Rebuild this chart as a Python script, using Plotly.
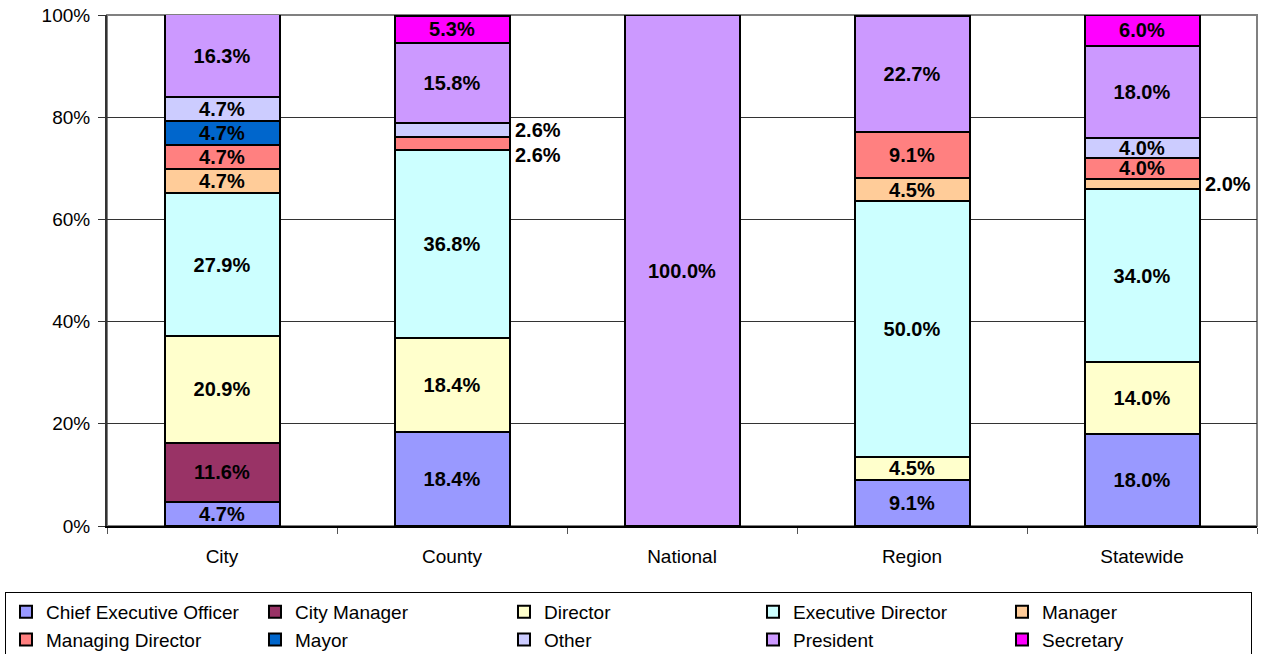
import plotly.graph_objects as go

categories = ["City", "County", "National", "Region", "Statewide"]
series_names = ["Chief Executive Officer", "City Manager", "Director", "Executive Director",
                "Manager", "Managing Director", "Mayor", "Other", "President", "Secretary"]
ceo = [4.7, 18.4, 0, 9.1, 18.0]
city_manager = [11.6, 0, 0, 0, 0]
director = [20.9, 18.4, 0, 4.5, 14.0]
executive_director = [27.9, 36.8, 0, 50.0, 34.0]
manager = [4.7, 0, 0, 4.5, 2.0]
managing_director = [4.7, 2.6, 0, 9.1, 4.0]
mayor = [4.7, 0, 0, 0, 0]
other = [4.7, 2.6, 0, 0, 4.0]
president = [16.3, 15.8, 100.0, 22.7, 18.0]
secretary = [0, 5.3, 0, 0, 6.0]
series_values = [ceo, city_manager, director, executive_director, manager,
                 managing_director, mayor, other, president, secretary]
colors = ["#9999FF", "#993366", "#FFFFCC", "#CCFFFF", "#FFCC99",
          "#FF8080", "#0066CC", "#CCCCFF", "#CC99FF", "#FF00FF"]
y_ticks = [0, 20, 40, 60, 80, 100]
y_ticklabels = ["0%", "20%", "40%", "60%", "80%", "100%"]

FONT = "Liberation Sans, Arial, sans-serif"
OUTSIDE_MIN = 3.0

fig = go.Figure()
for name, vals, col in zip(series_names, series_values, colors):
    texts = [f"{v:.1f}%" if v >= OUTSIDE_MIN else "" for v in vals]
    fig.add_trace(go.Bar(
        x=categories, y=vals, name=name,
        marker=dict(color=col, line=dict(color="black", width=2)),
        text=texts, textposition="inside", insidetextanchor="middle",
        textangle=0, constraintext="none",
        textfont=dict(family=FONT, size=20, color="black", weight="bold"),
        hoverinfo="skip", width=0.5,
    ))

# outside labels for small segments
PLOT_H = 511
for ci, cat in enumerate(categories):
    cum = 0
    prev_px = None
    outs = []
    for vals in series_values:
        v = vals[ci]
        if 0 < v < OUTSIDE_MIN:
            outs.append((cum + v / 2, v))
        cum += v
    outs.sort(key=lambda t: -t[0])
    for yc, v in outs:
        px = (100 - yc) / 100 * PLOT_H
        shift = 0
        if prev_px is not None and px - prev_px < 25:
            shift = 25 - (px - prev_px)
            px = prev_px + 25
        prev_px = px
        fig.add_annotation(x=cat, y=yc, xref="x", yref="y", text=f"<b>{v:.1f}%</b>",
                           showarrow=False, xanchor="left", xshift=61, yshift=-shift,
                           font=dict(family=FONT, size=20, color="black"))

# plot border (gray top/right)
fig.add_shape(type="rect", xref="paper", yref="paper", x0=0, x1=1, y0=0, y1=1,
              line=dict(color="#808080", width=2), layer="below")

fig.update_layout(
    barmode="stack",
    width=1271, height=654,
    margin=dict(l=107, r=14, t=15, b=128, autoexpand=False),
    paper_bgcolor="white", plot_bgcolor="white",
    font=dict(family=FONT, size=19, color="black"),
    showlegend=True,
    legend=dict(orientation="h", xref="paper", yref="paper",
                x=-0.0887, y=-0.129, xanchor="left", yanchor="top",
                entrywidth=204, entrywidthmode="pixels",
                bordercolor="black", borderwidth=1,
                font=dict(family=FONT, size=19, color="black"),
                traceorder="normal", itemclick=False, tracegroupgap=0),
    xaxis=dict(type="category", showline=True, linecolor="black", linewidth=2,
               ticks="outside", tickson="boundaries", ticklen=6, tickcolor="#555",
               tickfont=dict(size=19), showgrid=False, ticklabelstandoff=12),
    yaxis=dict(range=[0, 100], tickvals=y_ticks, ticktext=y_ticklabels,
               showline=True, linecolor="#333", linewidth=2,
               ticks="outside", ticklen=7, tickcolor="#333",
               showgrid=True, gridcolor="#333", gridwidth=1,
               tickfont=dict(size=19), zeroline=False, ticklabelstandoff=4),
)

fig.write_html("out.html", config={"displayModeBar": False},
               post_script="document.body.style.margin='0';")
